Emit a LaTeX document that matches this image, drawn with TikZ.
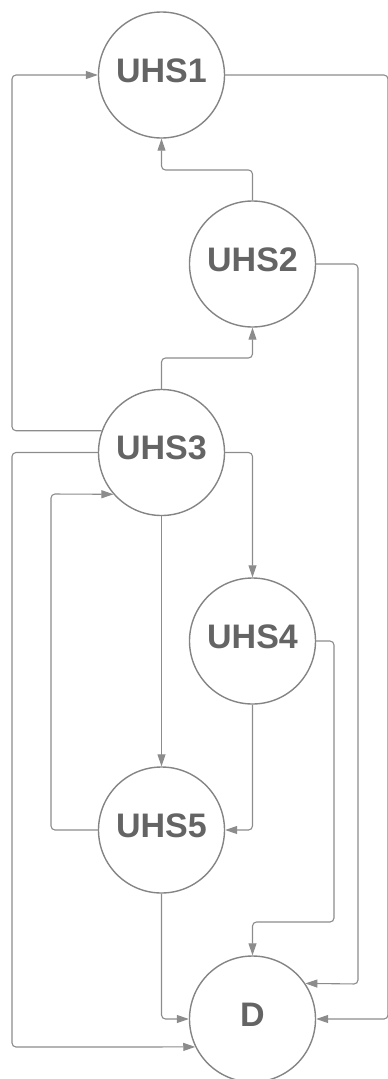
\documentclass[tikz,border=0pt]{standalone}
\usepackage{fontspec}
\setmainfont{Liberation Sans}
\usetikzlibrary{arrows.meta}
\definecolor{edgegray}{RGB}{140,140,140}
\definecolor{ringgray}{RGB}{132,132,132}
\definecolor{textgray}{RGB}{100,100,100}
\tikzset{
  state/.style={circle, draw=ringgray, line width=1.4pt, fill=white,
    minimum size=126pt, inner sep=0pt, text=textgray,
    font=\fontsize{34}{34}\selectfont\bfseries, text height=24pt, text depth=10pt},
  conn/.style={draw=edgegray, line width=1.1pt, rounded corners=4pt,
    -{Triangle[length=12pt,width=8pt,fill=edgegray]}},
}
\begin{document}
\begin{tikzpicture}[x=1pt,y=-1pt]
\useasboundingbox (0,0) rectangle (388,1079);
\node[state] (u1) at (161.5,75) {UHS1};
\node[state] (u2) at (252.5,264) {UHS2};
\node[state] (u3) at (161.5,452.5) {UHS3};
\node[state] (u4) at (252.5,641) {UHS4};
\node[state] (u5) at (161.5,830) {UHS5};
\node[state] (d) at (252.5,1019) {D};
\coordinate (c1) at (388,1019);
\coordinate (c2) at (161.5,170);
\coordinate (c3) at (358,984);
\coordinate (c4) at (334,922);
\coordinate (c5) at (252.5,358);
\coordinate (c6) at (12,75);
\coordinate (c7) at (12,1047);
\coordinate (c8) at (51,494);
\draw[conn] (u1.east) -| (c1) -- (d.east);
\draw[conn] (u2.north) |- (c2) -- (u1.south);
\draw[conn] (u2.east) -| (c3) -- (d.34);
\draw[conn] (u3.north) |- (c5) -- (u2.south);
\draw[conn] (u3.160) -| (c6) -- (u1.west);
\draw[conn] (u3.west) -| (c7) -- (d.206);
\draw[conn] (u5.west) -| (c8) -- (u3.221);
\draw[conn] (u3.east) -| (u4.north);
\draw[conn] (u3.south) -- (u5.north);
\draw[conn] (u4.south) |- (u5.east);
\draw[conn] (u4.east) -| (c4) -| (d.north);
\draw[conn] (u5.south) |- (d.west);
\end{tikzpicture}
\end{document}
